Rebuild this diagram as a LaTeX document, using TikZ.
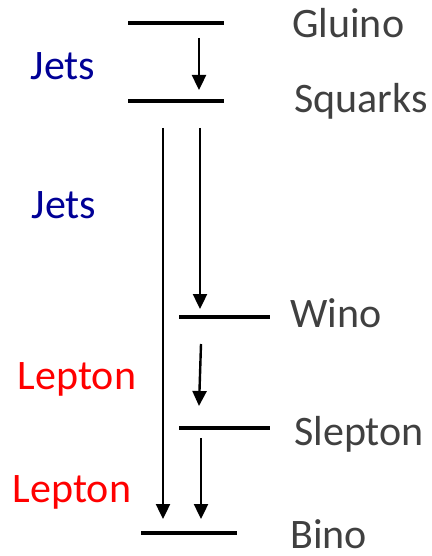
\documentclass[tikz,border=0pt]{standalone}
\usepackage{fontspec}
\setmainfont{Carlito}
\usetikzlibrary{arrows.meta}
\definecolor{labelgray}{RGB}{64,64,64}
\definecolor{jetblue}{RGB}{0,0,150}
\tikzset{
  level line/.style={line width=3.2pt},
  decay arrow/.style={line width=2.4pt,-{Triangle[width=14pt,length=15pt]}},
  particle/.style={anchor=base west,inner sep=0pt,font=\fontsize{42}{48}\selectfont,text=labelgray},
  jets/.style={anchor=base,inner sep=0pt,font=\fontsize{42}{48}\selectfont,text=jetblue},
  lepton/.style={anchor=base,inner sep=0pt,font=\fontsize{42}{48}\selectfont,text=red},
}

\begin{document}
\begin{tikzpicture}[x=1pt,y=-1pt]
  \useasboundingbox (0,0) rectangle (431,556);
  % mass levels
  \draw[level line] (128,23) coordinate (gl-w) -- (224,23) coordinate (gl-e);
  \draw[level line] (128,101) coordinate (sq-w) -- (224,101) coordinate (sq-e);
  \draw[level line] (179,317) coordinate (wi-w) -- (270,317) coordinate (wi-e);
  \draw[level line] (179,428) coordinate (sl-w) -- (270,428) coordinate (sl-e);
  \draw[level line] (141,533) coordinate (bi-w) -- (237,533) coordinate (bi-e);
  % particle names
  \node[particle] (gluino) at (292,38) {Gluino};
  \node[particle] (squarks) at (294,113) {Squarks};
  \node[particle] (wino) at (290,327) {Wino};
  \node[particle] (slepton) at (294,445) {Slepton};
  \node[particle] (bino) at (290,548) {Bino};
  % decay products
  \node[jets] (jets1) at (63,80) {Jets};
  \node[jets] (jets2) at (64,218) {Jets};
  \node[lepton] (lep1) at (77,389) {Lepton};
  \node[lepton] (lep2) at (72,502) {Lepton};
  % decay chain
  \coordinate (a1) at (199,38);   \coordinate (b1) at (199,90);
  \coordinate (a2) at (200,128);  \coordinate (b2) at (200,309);
  \coordinate (a3) at (201,344);  \coordinate (b3) at (199,406);
  \coordinate (a4) at (201,438);  \coordinate (b4) at (201,519);
  \coordinate (a5) at (163,128);  \coordinate (b5) at (163,519);
  \draw[decay arrow] (a1) -- (b1);
  \draw[decay arrow] (a2) -- (b2);
  \draw[decay arrow] (a3) -- (b3);
  \draw[decay arrow] (a4) -- (b4);
  \draw[decay arrow] (a5) -- (b5);
\end{tikzpicture}
\end{document}
